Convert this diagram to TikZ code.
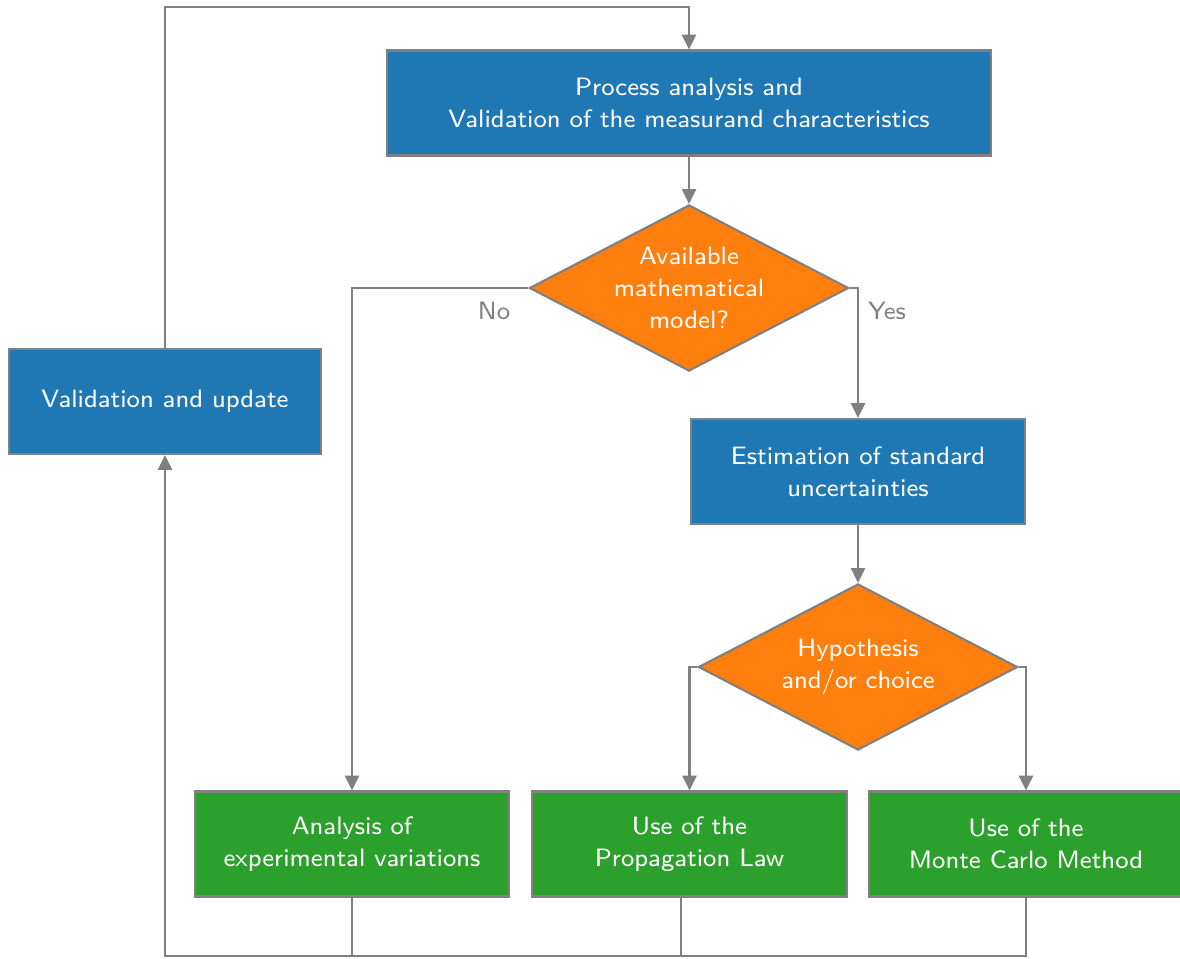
\documentclass[tikz,border=0pt]{standalone}
\usetikzlibrary{shapes.geometric,arrows.meta}
\definecolor{procblue}{RGB}{31,119,180}
\definecolor{decorange}{RGB}{255,127,14}
\definecolor{resgreen}{RGB}{44,160,44}
\definecolor{linegray}{RGB}{128,128,128}
\tikzset{
  box/.style={rectangle,draw=linegray,line width=0.6pt,text=white,align=center,
    minimum height=1.05cm,inner sep=0pt,font=\sffamily\fontsize{7.15}{9.2}\selectfont},
  bluebox/.style={box,fill=procblue},
  greenbox/.style={box,fill=resgreen,minimum width=3.14cm},
  decision/.style={diamond,draw=linegray,line width=0.6pt,fill=decorange,text=white,
    align=center,inner sep=0pt,aspect=1.92,minimum width=3.19cm,minimum height=1.66cm,
    font=\sffamily\fontsize{7.15}{9.2}\selectfont},
  arr/.style={draw=linegray,line width=0.6pt,-{Triangle[length=4.2pt,width=4pt]}},
  conn/.style={draw=linegray,line width=0.6pt},
  lbl/.style={text=linegray,font=\sffamily\fontsize{7.15}{9.2}\selectfont}
}
\begin{document}
\begin{tikzpicture}[x=0.01cm,y=-0.01cm]
\useasboundingbox (0,0) rectangle (1180,958);
% boxes
\node[bluebox,minimum width=6.04cm] (process) at (689,103) {Process analysis and\\Validation of the measurand characteristics};
\node[decision] (avail) at (689,288) {Available\\mathematical\\model?};
\node[bluebox,minimum width=3.11cm] (valid) at (165,401.5) {Validation and update};
\node[bluebox,minimum width=3.34cm] (estim) at (858,471.5) {Estimation of standard\\uncertainties};
\node[decision] (hypo) at (858,667) {Hypothesis\\and/or choice};
\node[greenbox] (analysis) at (352,844) {Analysis of\\experimental variations};
\node[greenbox] (proplaw) at (689.5,844) {Use of the\\Propagation Law};
\node[greenbox] (montecarlo) at (1026,844) {Use of the\\Monte Carlo Method};
\node[lbl] (no) at (494,311) {No};
\node[lbl] (yes) at (887,311) {Yes};
% helper points for the loop back
\coordinate (top) at (689,7);
\coordinate (bot) at (165,956);
% connectors
\draw[arr] (process) -- (avail);
\draw[arr] (avail.west) -| (analysis.north);
\draw[arr] (avail.east) -| (estim.north);
\draw[arr] (estim) -- (hypo);
\draw[arr] (hypo.west) -| (proplaw.north);
\draw[arr] (hypo.east) -| (montecarlo.north);
%\draw[arr] (analysis.south) |- (bot) -- (valid.south);
\draw[conn] (analysis.south) -- (analysis.south |- bot);
\draw[conn] ([xshift=-0.085cm]proplaw.south) -- ([xshift=-0.085cm]proplaw.south |- bot);
\draw[arr] (montecarlo.south) |- (bot) -- (valid.south);
\draw[arr] (valid.north) |- (top) -- (process.north);
\end{tikzpicture}
\end{document}
